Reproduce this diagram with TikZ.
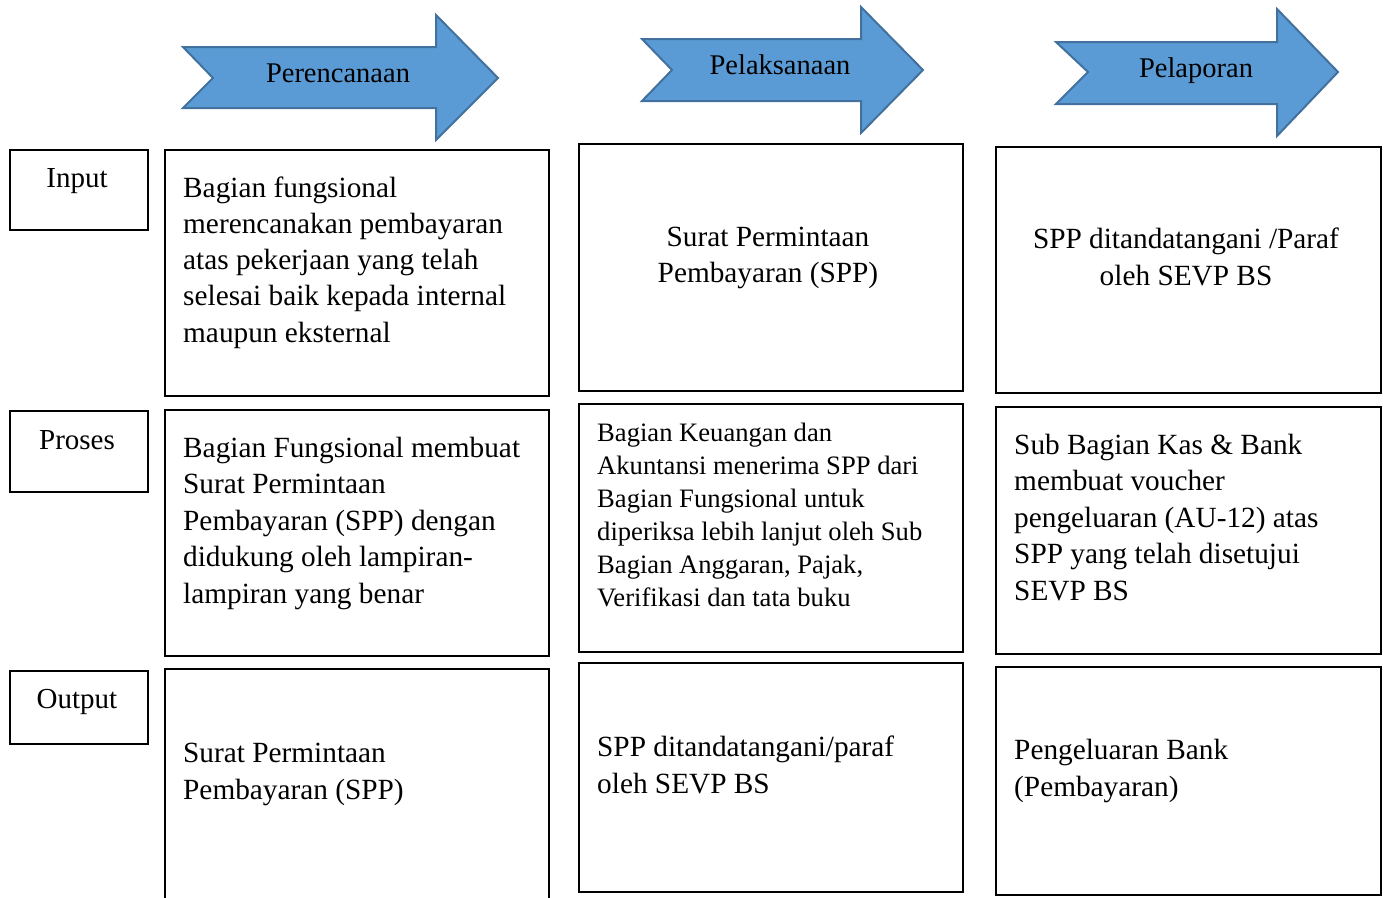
\documentclass[tikz,border=0pt]{standalone}
\usepackage{fontspec}
\setmainfont{Liberation Serif}
\definecolor{arrfill}{HTML}{5B9BD5}
\definecolor{arrline}{HTML}{41719C}
\newcommand\tbl[4]{\parbox[t]{#1pt}{\fontsize{#2pt}{#3pt}\selectfont\raggedright #4}}
\newcommand\tbc[4]{\parbox[t]{#1pt}{\fontsize{#2pt}{#3pt}\selectfont\centering #4}}
\begin{document}
\begin{tikzpicture}[x=1pt,y=-1pt,
  box/.style={draw=black, line width=2.8pt, inner sep=0pt, outer sep=0pt, anchor=north west},
  arrowshape/.style={fill=arrfill, draw=arrline, line width=2pt, line join=miter},
  txt/.style={inner sep=0pt, anchor=base west},
  ctxt/.style={inner sep=0pt, anchor=base},
  atxt/.style={inner sep=0pt, anchor=base, font=\fontsize{28.5pt}{34pt}\selectfont}]
\useasboundingbox (0,0) rectangle (1386,897);
% header arrows
\draw[arrowshape] (183,47) -- (436,47) -- (436,15) -- (498,78) -- (436,140) -- (436,108) -- (183,108) -- (213,78) -- cycle;
\node[atxt] (a1) at (338,82) {Perencanaan};
\draw[arrowshape] (642,39) -- (861,39) -- (861,7) -- (923,70) -- (861,133) -- (861,101) -- (642,101) -- (672,70) -- cycle;
\node[atxt] (a2) at (780,74) {Pelaksanaan};
\draw[arrowshape] (1056,42) -- (1277,42) -- (1277,9) -- (1338,72) -- (1277,136) -- (1277,104) -- (1056,104) -- (1088,72) -- cycle;
\node[atxt] (a3) at (1196,77) {Pelaporan};
% row labels
\node[box, minimum width=138pt, minimum height=80pt] (lin) at (10,150) {};
\node[ctxt] (tin) at (77,187) {\fontsize{29pt}{35pt}\selectfont Input};
\node[box, minimum width=138pt, minimum height=81pt] (lpr) at (10,411) {};
\node[ctxt] (tpr) at (77,449) {\fontsize{29pt}{35pt}\selectfont Proses};
\node[box, minimum width=138pt, minimum height=73pt] (lout) at (10,671) {};
\node[ctxt] (tout) at (77,708) {\fontsize{29pt}{35pt}\selectfont Output};
% column 1
\node[box, minimum width=384pt, minimum height=246pt] (b11) at (165,150) {};
\node[txt] (t11) at (183,197) {\tbl{360}{29.3}{36.3}{Bagian fungsional\\merencanakan pembayaran\\atas pekerjaan yang telah\\selesai baik kepada internal\\maupun eksternal}};
\node[box, minimum width=384pt, minimum height=246pt] (b12) at (165,410) {};
\node[txt] (t12) at (183,457) {\tbl{360}{29.3}{36.5}{Bagian Fungsional membuat\\Surat Permintaan\\Pembayaran (SPP) dengan\\didukung oleh lampiran-\\lampiran yang benar}};
\coordinate (c13a) at (165,900);
\coordinate (c13b) at (165,669);
\coordinate (c13c) at (549,669);
\coordinate (c13d) at (549,900);
\draw[line width=2.8pt, line join=miter] (c13a) -- (c13b) -- (c13c) -- (c13d);
\node[txt] (t13) at (183,762) {\tbl{360}{29.3}{37}{Surat Permintaan\\Pembayaran (SPP)}};
% column 2
\node[box, minimum width=384pt, minimum height=247pt] (b21) at (579,144) {};
\node[ctxt] (t21) at (768,246) {\tbc{380}{29.3}{36}{Surat Permintaan\\Pembayaran (SPP)}};
\node[box, minimum width=384pt, minimum height=248pt] (b22) at (579,404) {};
\node[txt] (t22) at (597,441) {\tbl{360}{26.6}{33}{Bagian Keuangan dan\\Akuntansi menerima SPP dari\\Bagian Fungsional untuk\\diperiksa lebih lanjut oleh Sub\\Bagian Anggaran, Pajak,\\Verifikasi dan tata buku}};
\node[box, minimum width=384pt, minimum height=229pt] (b23) at (579,663) {};
\node[txt] (t23) at (597,756) {\tbl{360}{29.3}{37}{SPP ditandatangani/paraf\\oleh SEVP BS}};
% column 3
\node[box, minimum width=385pt, minimum height=246pt] (b31) at (996,147) {};
\node[ctxt] (t31) at (1186,248) {\tbc{380}{29.3}{37}{SPP ditandatangani /Paraf\\oleh SEVP BS}};
\node[box, minimum width=385pt, minimum height=247pt] (b32) at (996,407) {};
\node[txt] (t32) at (1014,454) {\tbl{360}{29.3}{36.5}{Sub Bagian Kas \& Bank\\membuat voucher\\pengeluaran (AU-12) atas\\SPP yang telah disetujui\\SEVP BS}};
\node[box, minimum width=385pt, minimum height=228pt] (b33) at (996,667) {};
\node[txt] (t33) at (1014,759) {\tbl{360}{29.3}{37}{Pengeluaran Bank\\(Pembayaran)}};
\end{tikzpicture}
\end{document}
